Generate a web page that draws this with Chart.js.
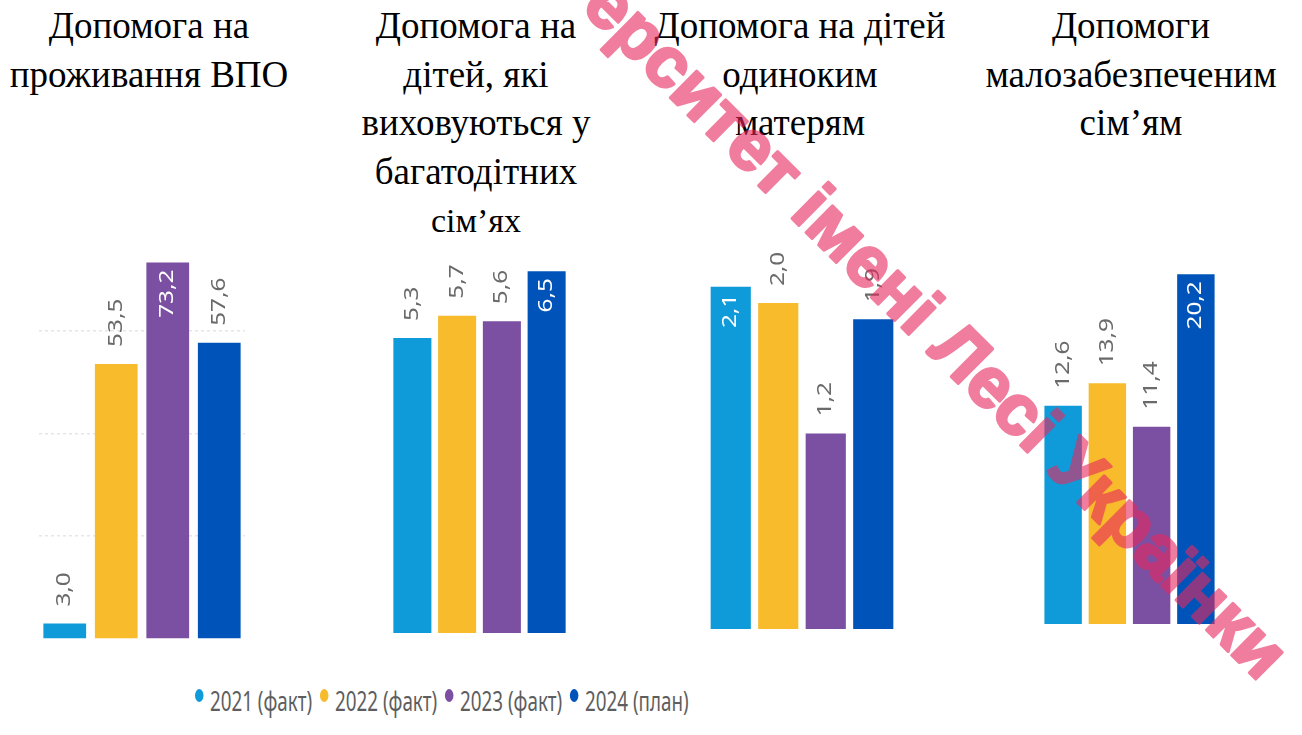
<!DOCTYPE html>
<html>
<head>
<meta charset="utf-8">
<script src="https://cdn.jsdelivr.net/npm/chart.js@4.4.1/dist/chart.umd.min.js"></script>
<style>
  body { margin: 0; background: #fff; }
  #page { position: relative; width: 1302px; height: 735px; overflow: hidden; background: #fff; }
  .title { position: absolute; top: 2px; width: 340px; text-align: center; font-family: "Liberation Serif", "Times New Roman", serif; font-size: 37px; line-height: 48.5px; color: #000; white-space: nowrap; }
  .panel { position: absolute; }
  #legend { position: absolute; left: 195px; top: 684px; display: flex; align-items: flex-start; transform: scaleX(0.71); transform-origin: 0 0; white-space: nowrap; font-family: "Noto Sans", sans-serif; font-size: 26.5px; line-height: 34px; color: #5e5e5e; }
  #legend .dot { width: 12px; height: 13px; border-radius: 50%; margin-top: 5px; margin-right: 9px; }
  #legend .item { display: flex; align-items: flex-start; margin-right: 11px; }
  #watermark { position: absolute; left: 0; top: 0; pointer-events: none; opacity: 0.6; }
</style>
</head>
<body>
<div id="page"></div>
<script>
// titles over each panel, one entry per line
const groupTitles = [
    ["Допомога на", "проживання ВПО"],
    ["Допомога на", "дітей, які", "виховуються у", "багатодітних", "сім’ях"],
    ["Допомога на дітей", "одиноким", "матерям"],
    ["Допомоги", "малозабезпеченим", "сім’ям"],
];
const seriesLabels = ["2021 (факт)", "2022 (факт)", "2023 (факт)", "2024 (план)"];
const fact2021 = [3.0, 5.3, 2.1, 12.6];
const fact2022 = [53.5, 5.7, 2.0, 13.9];
const fact2023 = [73.2, 5.6, 1.2, 11.4];
const plan2024 = [57.6, 6.5, 1.9, 20.2];
const seriesValues = [fact2021, fact2022, fact2023, plan2024];
const seriesColors = ["#0f9bd9", "#f8bb2b", "#7b4fa1", "#0054b9"];
// each panel has its own value axis
const axisMax = [77.6, 7.06, 2.387, 22.18];
const gridStep = [20, null, null, null];
const watermarkText = "ерситет імені Лесі Українки";

// where the panels sit on the page
const panels = [
    { center: 149, left: 39, width: 206, bottom: 639, bar: 0.83 },
    { center: 476, left: 390, width: 179, bottom: 633, bar: 0.85 },
    { center: 800, left: 707, width: 190, bottom: 629, bar: 0.846 },
    { center: 1131, left: 1041, width: 177, bottom: 624, bar: 0.846 },
];
const panelTop = 240;

const page = document.getElementById("page");

const fmt = (v) => v.toFixed(1).replace(".", ",");

// value labels, rotated, gray above the bar or white inside the tallest one
const valueLabels = {
    id: "valueLabels",
    afterDatasetsDraw(chart) {
        const ctx = chart.ctx;
        const values = chart.data.datasets.map((d) => d.data[0]);
        const max = Math.max(...values);
        ctx.save();
        ctx.font = "19px 'Noto Sans', sans-serif";
        ctx.textBaseline = "middle";
        chart.data.datasets.forEach((ds, i) => {
            const bar = chart.getDatasetMeta(i).data[0];
            const v = ds.data[0];
            const inside = v === max;
            ctx.save();
            if (inside) {
                ctx.translate(bar.x, bar.y + 7);
                ctx.rotate(-Math.PI / 2);
                ctx.scale(1.28, 1);
                ctx.textAlign = "right";
                ctx.fillStyle = "#ffffff";
            } else {
                ctx.translate(bar.x, bar.y - 17);
                ctx.rotate(-Math.PI / 2);
                ctx.scale(1.28, 1);
                ctx.textAlign = "left";
                ctx.fillStyle = "#6a6a6a";
            }
            ctx.fillText(fmt(v), 0, 0);
            ctx.restore();
        });
        ctx.restore();
    },
};

panels.forEach((p, g) => {
    const t = document.createElement("div");
    t.className = "title";
    t.style.left = p.center - 170 + "px";
    t.innerHTML = groupTitles[g]
        .map((line, k) => (g === 1 && k === 4 ? '<span style="font-size:34px">' + line + "</span>" : line))
        .join("<br>");
    page.appendChild(t);

    const c = document.createElement("canvas");
    c.className = "panel";
    c.width = p.width;
    c.height = p.bottom - panelTop;
    c.style.left = p.left + "px";
    c.style.top = panelTop + "px";
    page.appendChild(c);

    new Chart(c, {
        type: "bar",
        data: {
            labels: [groupTitles[g].join(" ")],
            datasets: seriesLabels.map((label, i) => ({
                label: label,
                data: [seriesValues[i][g]],
                backgroundColor: seriesColors[i],
                borderWidth: 0,
                barPercentage: p.bar,
                categoryPercentage: 1,
            })),
        },
        options: {
            responsive: false,
            animation: false,
            layout: { padding: 0 },
            plugins: {
                legend: { display: false },
                tooltip: { enabled: false },
            },
            scales: {
                x: { display: false },
                y: {
                    display: gridStep[g] !== null,
                    min: 0,
                    max: axisMax[g],
                    ticks: { display: false, stepSize: gridStep[g] || 1 },
                    border: { display: false, dash: [3, 3] },
                    grid: {
                        drawTicks: false,
                        lineWidth: 1.5,
                        color: (ctx) => {
                            const v = ctx.tick ? ctx.tick.value : 0;
                            return v > 0 && gridStep[g] && v % gridStep[g] === 0 ? "#e6e6e6" : "rgba(0,0,0,0)";
                        },
                    },
                },
            },
        },
        plugins: [valueLabels],
    });
});

// shared legend
const legend = document.createElement("div");
legend.id = "legend";
seriesLabels.forEach((label, i) => {
    const item = document.createElement("div");
    item.className = "item";
    item.innerHTML = '<span class="dot" style="background:' + seriesColors[i] + '"></span><span>' + label + "</span>";
    legend.appendChild(item);
});
page.appendChild(legend);

// diagonal watermark over everything (opaque here, faded by the canvas opacity)
const wm = document.createElement("canvas");
wm.id = "watermark";
wm.width = 1302;
wm.height = 735;
page.appendChild(wm);
const wctx = wm.getContext("2d");
wctx.translate(580, 8);
wctx.rotate((44.8 * Math.PI) / 180);
wctx.font = "bold 71px 'Liberation Sans', Arial, sans-serif";
wctx.fillStyle = "#e8285f";
wctx.strokeStyle = "#e8285f";
wctx.lineWidth = 3;
wctx.lineJoin = "round";
wctx.fillText(watermarkText, 0, 0);
wctx.strokeText(watermarkText, 0, 0);
</script>
</body>
</html>
